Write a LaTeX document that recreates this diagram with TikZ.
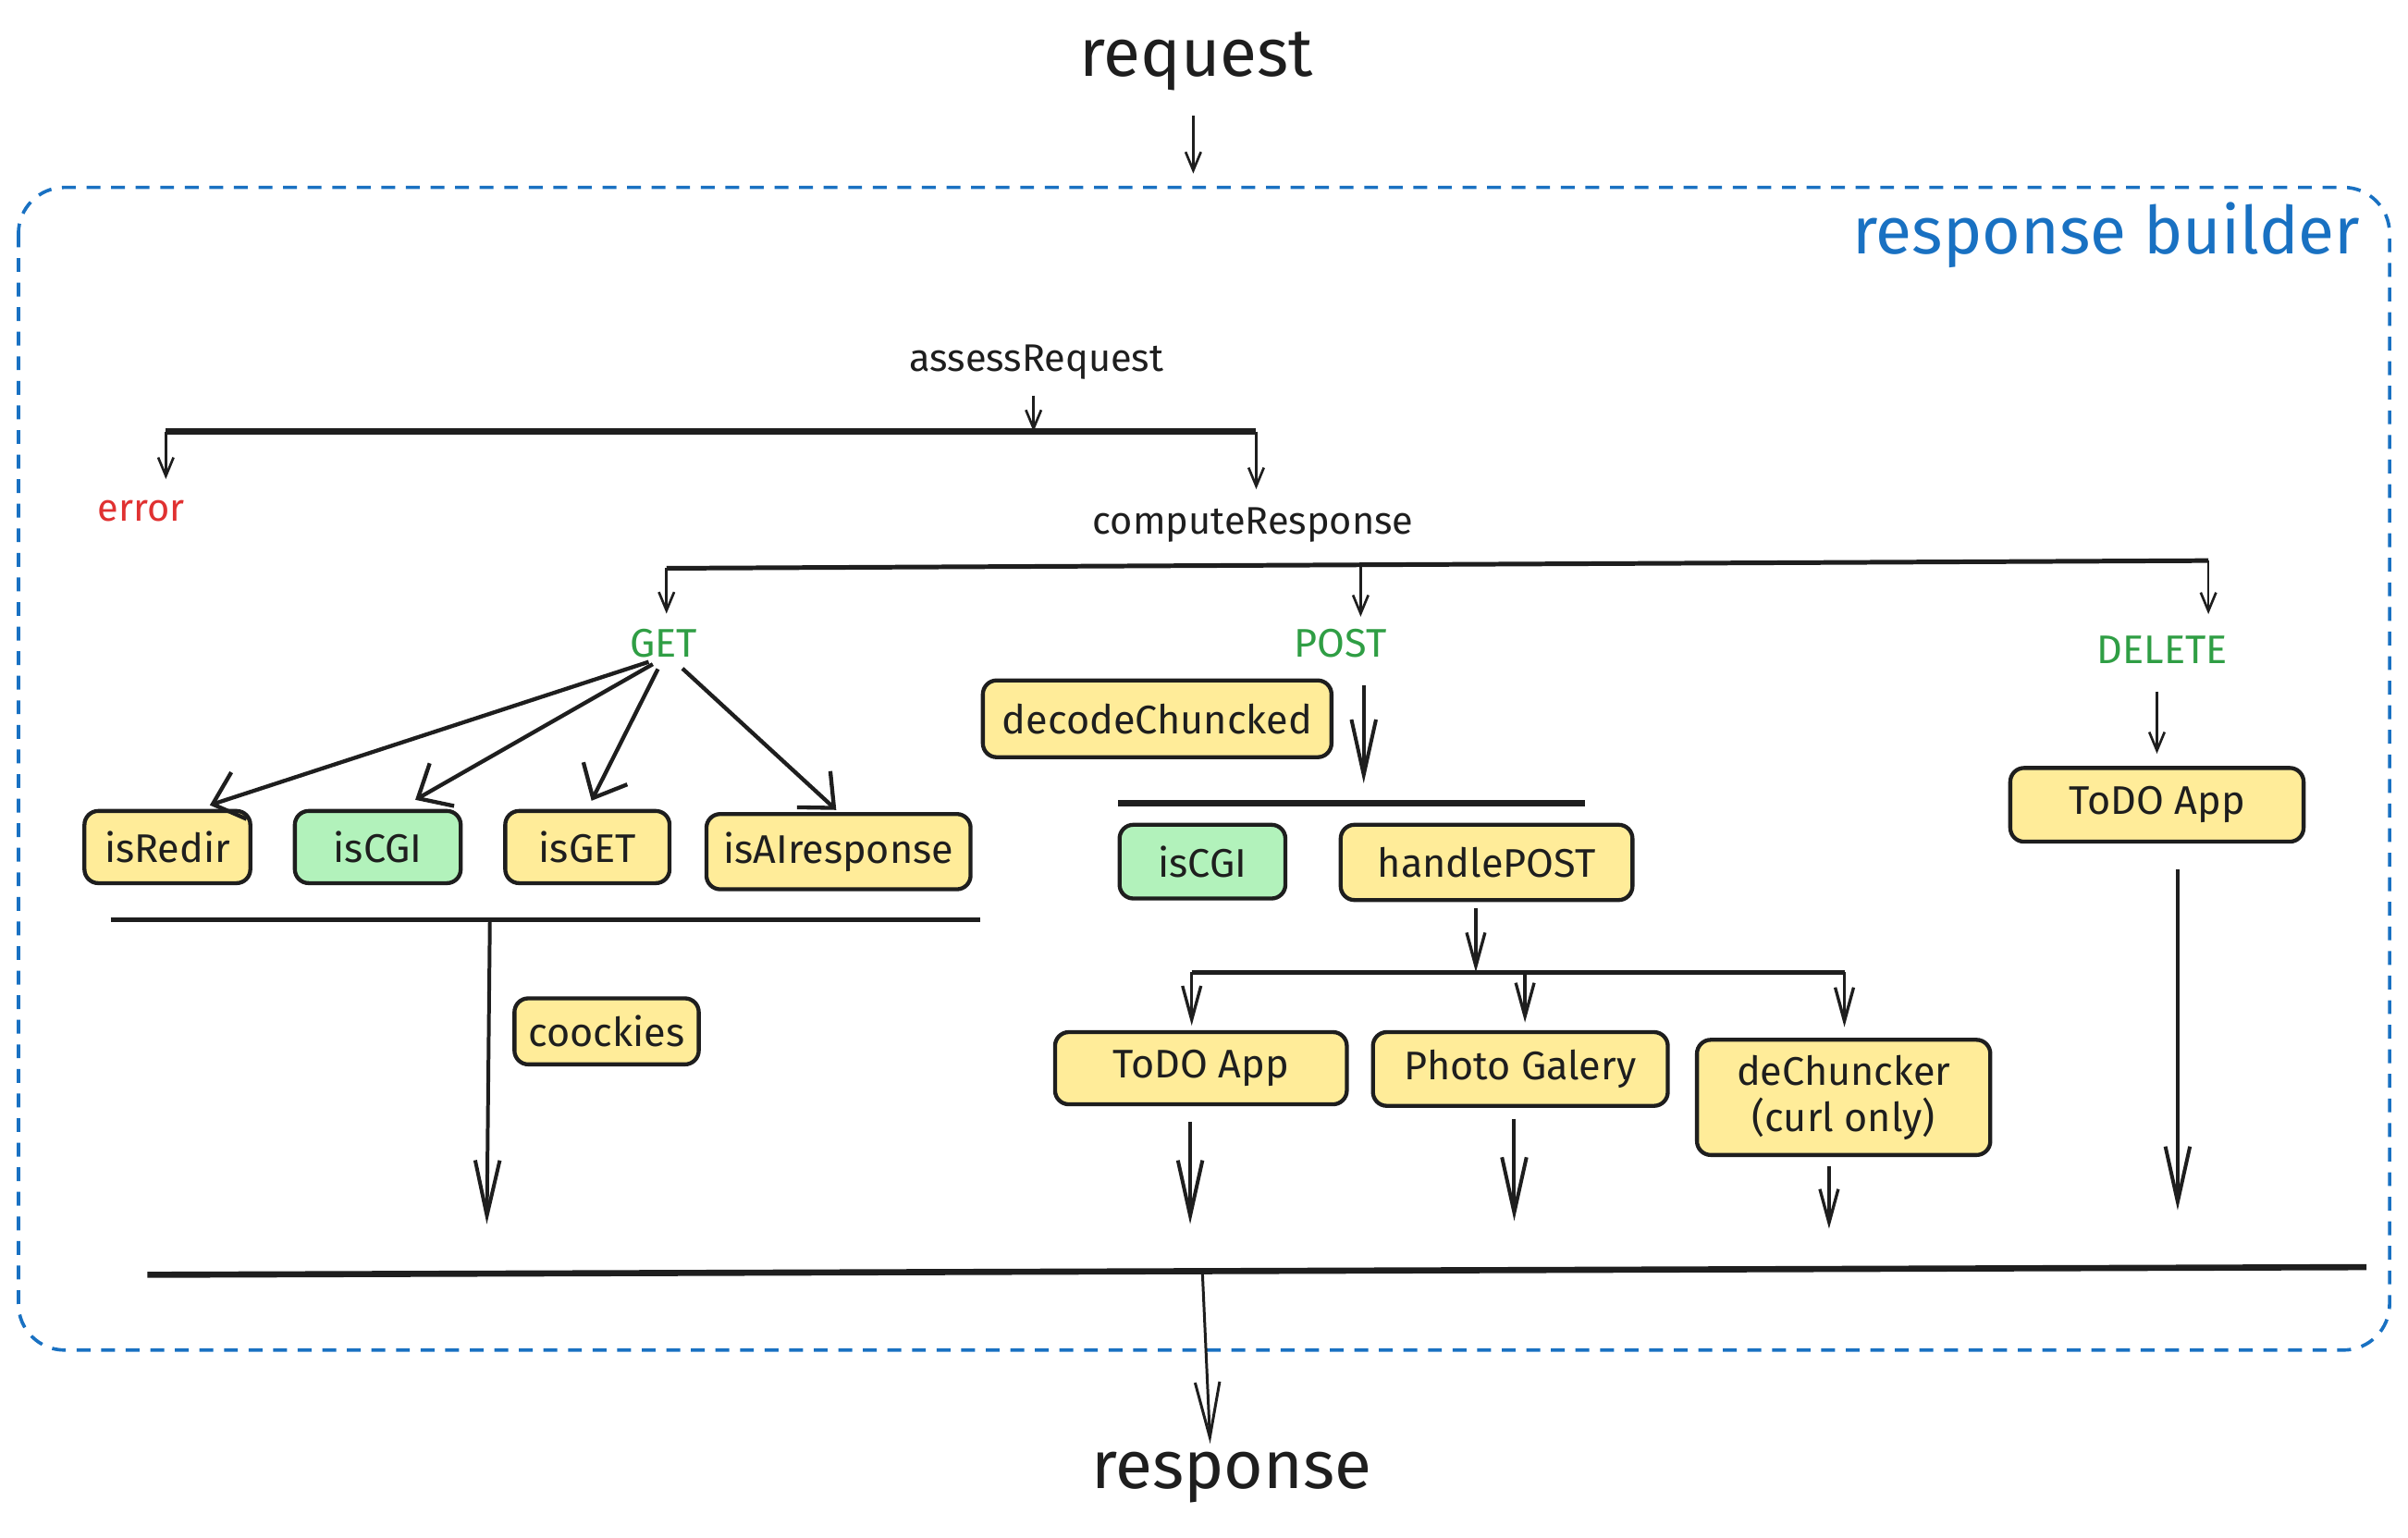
\documentclass[tikz,border=0pt]{standalone}
\usepackage{fontspec}
\setmainfont{Fira Sans}
\usetikzlibrary{arrows.meta}
\definecolor{ink}{HTML}{1E1E1E}
\definecolor{boxyellow}{HTML}{FFEC99}
\definecolor{boxgreen}{HTML}{B2F2BB}
\definecolor{methodgreen}{HTML}{2F9E44}
\definecolor{errred}{HTML}{E03131}
\definecolor{frameblue}{HTML}{1971C2}
\tikzset{
  lbl/.style={inner sep=0pt, text=ink, font=\fontsize{25}{28}\selectfont},
  biglbl/.style={inner sep=0pt, text=ink, font=\fontsize{44}{50}\selectfont},
  method/.style={inner sep=0pt, text=methodgreen, font=\fontsize{26}{30}\selectfont},
  card/.style={draw=ink, line width=2.6pt, rounded corners=9pt, fill=boxyellow,
    text=ink, font=\fontsize{26}{30}\selectfont, inner sep=0pt, align=center},
  cgicard/.style={card, fill=boxgreen},
  bar/.style={draw=ink, line width=3.4pt},
  arrS/.style={draw=ink, line width=1.6pt, -{Straight Barb[length=12pt,width=10pt]}},
  arrM/.style={draw=ink, line width=2pt, -{Straight Barb[length=22pt,width=12pt]}},
  arrL/.style={draw=ink, line width=2.4pt, -{Straight Barb[length=36pt,width=16pt]}},
  fan/.style={draw=ink, line width=2.6pt, -{Straight Barb[length=18pt,width=32pt]}},
}
\begin{document}
\begin{tikzpicture}[x=1pt, y=-1pt]
\useasboundingbox (0,0) rectangle (1568,1001);
\fill[white] (0,0) rectangle (1568,1001);

% outer frame of the response builder
\draw[frameblue, line width=2.2pt, dash pattern=on 9pt off 7pt, rounded corners=30pt]
  (12,122) rectangle (1556,879);
\node[inner sep=0pt, anchor=east, text=frameblue, font=\fontsize{43}{48}\selectfont]
  (rbtitle) at (1537,153) {response builder};

% entry and exit
\node[biglbl] (request) at (779,40) {request};
\node[biglbl] (response) at (802,962) {response};

% request assessment
\node[lbl] (assess) at (675,236) {assessRequest};
\node[inner sep=0pt, text=errred, font=\fontsize{25}{28}\selectfont] (error) at (92,333) {error};
\node[lbl] (compute) at (816,342) {computeResponse};

% methods
\node[method] (get) at (432,419) {GET};
\node[method] (post) at (873,419) {POST};
\node[method] (delete) at (1408,423) {DELETE};

% GET branch
\node[card, minimum width=108pt, minimum height=47pt] (isredir) at (109,551.5) {isRedir};
\node[cgicard, minimum width=108pt, minimum height=47pt] (iscgiget) at (246,551.5) {isCGI};
\node[card, minimum width=107pt, minimum height=47pt] (isget) at (382.5,551.5) {isGET};
\node[card, minimum width=172pt, minimum height=49pt] (isai) at (546,554.5) {isAIresponse};
\node[card, minimum width=120pt, minimum height=43pt] (cookies) at (395,671.5) {coockies};

% POST branch
\node[card, minimum width=227pt, minimum height=50pt] (decode) at (753.5,468) {decodeChuncked};
\node[cgicard, minimum width=108pt, minimum height=48pt] (iscgipost) at (783,561) {isCGI};
\node[card, minimum width=190pt, minimum height=49pt] (handlepost) at (968,561.5) {handlePOST};
\node[card, minimum width=190pt, minimum height=47pt] (todopost) at (782,695.5) {ToDO App};
\node[card, minimum width=192pt, minimum height=48pt] (photo) at (990,696) {Photo Galery};
\node[card, minimum width=191pt, minimum height=75pt] (dechunk) at (1200.5,714.5) {deChuncker\\(curl only)};

% DELETE branch
\node[card, minimum width=191pt, minimum height=48pt] (tododel) at (1404.5,524) {ToDO App};

% junction bars
\coordinate (assessL) at (108,281);
\coordinate (assessM) at (673,281);
\coordinate (assessR) at (818,281);
\draw[bar, line width=4pt] (assessL) -- (assessR);

\coordinate (methL) at (434,370);
\coordinate (methM) at (886,368);
\coordinate (methR) at (1438,365);
\draw[bar, line width=3pt] (methL) -- (methR);

\coordinate (getL) at (72,599);
\coordinate (getM) at (319,599);
\coordinate (getR) at (638,599);
\draw[bar, line width=3pt] (getL) -- (getR);

\coordinate (postL) at (728,523);
\coordinate (postR) at (1032,523);
\draw[bar, line width=4pt] (postL) -- (postR);

\coordinate (handL) at (776,633);
\coordinate (handM) at (961,633);
\coordinate (handC) at (993,633);
\coordinate (handR) at (1201,633);
\draw[bar, line width=3pt] (handL) -- (handR);

\coordinate (outL) at (96,830);
\coordinate (outM) at (783,829);
\coordinate (outR) at (1541,825);
\draw[bar, line width=4pt] (outL) -- (outR);

% free arrow ends
\coordinate (reqEnd) at (777,113);
\coordinate (getEnd) at (317,797);
\coordinate (postEnd) at (888,510);
\coordinate (todoEnd) at (775,797);
\coordinate (photoEnd) at (986,795);
\coordinate (dechunkEnd) at (1191,800);
\coordinate (delEnd) at (1418,788);
\coordinate (respIn) at (788,940);

% connectors
\draw[arrS, shorten <=16pt] (request.south -| reqEnd) -- (reqEnd);
\draw[arrS, shorten <=10pt] (assess.south -| assessM) -- (assessM);
\draw[arrS, shorten >=14pt] (assessL) -- (assessL |- error.north);
\draw[arrS, shorten >=12pt] (assessR) -- (assessR |- compute.north);

\draw[arrS, shorten >=10pt] (methL) -- (methL |- get.north);
\draw[arrS, shorten >=8pt] (methM) -- (methM |- post.north);
\draw[arrS, shorten >=14pt] (methR) -- (methR |- delete.north);

\draw[fan, shorten <=8pt, shorten >=8pt] ([xshift=-2pt]get.south) -- ([xshift=20pt]isredir.north);
\draw[fan, shorten <=8pt, shorten >=12pt] (get.south) -- ([xshift=14pt]iscgiget.north);
\draw[fan, shorten <=8pt, shorten >=6pt] (get.south) -- (isget.north);
\draw[fan, shorten <=10pt, shorten >=2pt] ([xshift=5pt]get.south) -- (isai.north);

\draw[arrL] (getM) -- (getEnd);
\draw[arrL, shorten <=18pt] (post.south -| postEnd) -- (postEnd);
\draw[arrM, shorten <=4pt] (handlepost.south -| handM) -- (handM);
\draw[arrM, shorten >=3pt] (handL) -- (handL |- todopost.north);
\draw[arrM, shorten >=5pt] (handC) -- (handC |- photo.north);
\draw[arrM, shorten >=7pt] (handR) -- (handR |- dechunk.north);

\draw[arrL, shorten <=10pt] (todopost.south -| todoEnd) -- (todoEnd);
\draw[arrL, shorten <=7pt] (photo.south -| photoEnd) -- (photoEnd);
\draw[arrM, shorten <=6pt] (dechunk.south -| dechunkEnd) -- (dechunkEnd);

\draw[arrS, shorten <=18pt, shorten >=8pt] (delete.south -| tododel) -- (tododel.north);
\draw[arrL, shorten <=17pt] (tododel.south -| delEnd) -- (delEnd);

\draw[arrL, line width=1.8pt] (outM) -- (respIn);
\end{tikzpicture}
\end{document}
